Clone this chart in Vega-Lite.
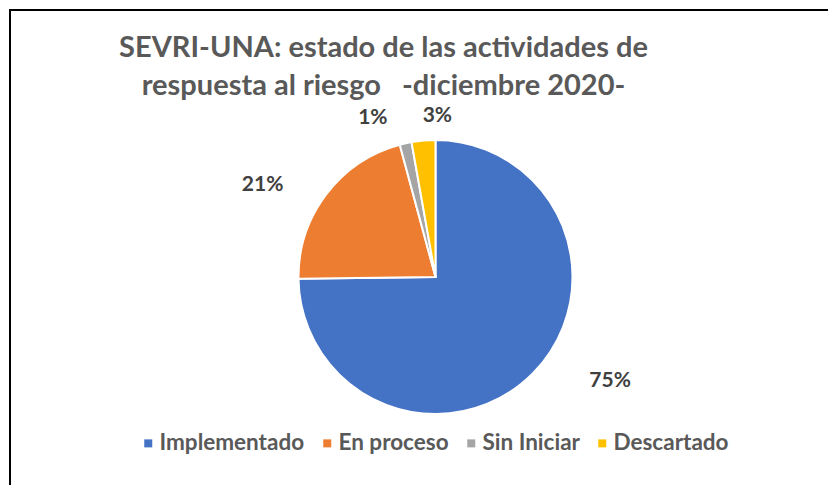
{
  "$schema": "https://vega.github.io/schema/vega-lite/v6.json",
  "width": 851,
  "height": 534,
  "autosize": {"type": "none"},
  "padding": {"left": 10, "top": 10, "right": -33, "bottom": -59},
  "background": "white",
  "config": {
    "view": {"stroke": "#000000", "strokeWidth": 2},
    "style": {"view": {"stroke": "#000000", "strokeWidth": 2}, "cell": {"stroke": "#000000", "strokeWidth": 2}},
    "font": "Lato, sans-serif"
  },
  "title": {
    "text": ["SEVRI-UNA: estado de las actividades de", "respuesta al riesgo\u00a0\u00a0\u00a0-diciembre 2020-"],
    "font": "Lato, sans-serif",
    "fontSize": 29,
    "fontWeight": "bold",
    "color": "#595959",
    "anchor": "middle",
    "frame": "group",
    "baseline": "alphabetic",
    "lineHeight": 38,
    "offset": 0,
    "dx": -52,
    "dy": 114
  },
  "data": {
    "values": [
      {"estado": "Implementado", "porcentaje": 0.748, "orden": 1},
      {"estado": "En proceso", "porcentaje": 0.21, "orden": 2},
      {"estado": "Sin Iniciar", "porcentaje": 0.014, "orden": 3},
      {"estado": "Descartado", "porcentaje": 0.028, "orden": 4}
    ]
  },
  "encoding": {
    "theta": {"field": "porcentaje", "type": "quantitative", "stack": true},
    "order": {"field": "orden", "type": "quantitative"}
  },
  "layer": [
    {
      "mark": {"type": "arc", "outerRadius": 137, "stroke": "white", "strokeWidth": 2},
      "encoding": {
        "color": {
          "field": "estado",
          "type": "nominal",
          "sort": ["Implementado", "En proceso", "Sin Iniciar", "Descartado"],
          "scale": {
            "domain": ["Implementado", "En proceso", "Sin Iniciar", "Descartado"],
            "range": ["#4472C4", "#ED7D31", "#A5A5A5", "#FFC000"]
          },
          "legend": {
            "title": null,
            "orient": "none",
            "direction": "horizontal",
            "legendX": 127,
            "legendY": 422,
            "symbolType": "square",
            "symbolSize": 64,
            "symbolStrokeWidth": 0,
            "labelFont": "Lato, sans-serif",
            "labelFontSize": 22.5,
            "labelFontWeight": "bold",
            "labelColor": "#595959",
            "labelOffset": 0,
            "columnPadding": 11,
            "labelLimit": 300
          }
        }
      }
    },
    {
      "mark": {"type": "text", "radius": 203, "thetaOffset": -0.244, "fontSize": 21, "fontWeight": "bold", "fill": "#404040", "baseline": "middle", "align": "center"},
      "encoding": {
        "text": {"field": "porcentaje", "type": "quantitative", "format": ".0%"},
        "opacity": {"condition": {"test": "datum.estado === 'Implementado'", "value": 1}, "value": 0}
      }
    },
    {
      "mark": {"type": "text", "radius": 196, "thetaOffset": -0.157, "fontSize": 21, "fontWeight": "bold", "fill": "#404040", "baseline": "middle", "align": "center"},
      "encoding": {
        "text": {"field": "porcentaje", "type": "quantitative", "format": ".0%"},
        "opacity": {"condition": {"test": "datum.estado === 'En proceso'", "value": 1}, "value": 0}
      }
    },
    {
      "mark": {"type": "text", "radius": 171, "thetaOffset": -0.155, "fontSize": 21, "fontWeight": "bold", "fill": "#404040", "baseline": "middle", "align": "center"},
      "encoding": {
        "text": {"field": "porcentaje", "type": "quantitative", "format": ".0%"},
        "opacity": {"condition": {"test": "datum.estado === 'Sin Iniciar'", "value": 1}, "value": 0}
      }
    },
    {
      "mark": {"type": "text", "radius": 161, "thetaOffset": 0.0995, "fontSize": 21, "fontWeight": "bold", "fill": "#404040", "baseline": "middle", "align": "center"},
      "encoding": {
        "text": {"field": "porcentaje", "type": "quantitative", "format": ".0%"},
        "opacity": {"condition": {"test": "datum.estado === 'Descartado'", "value": 1}, "value": 0}
      }
    }
  ]
}
